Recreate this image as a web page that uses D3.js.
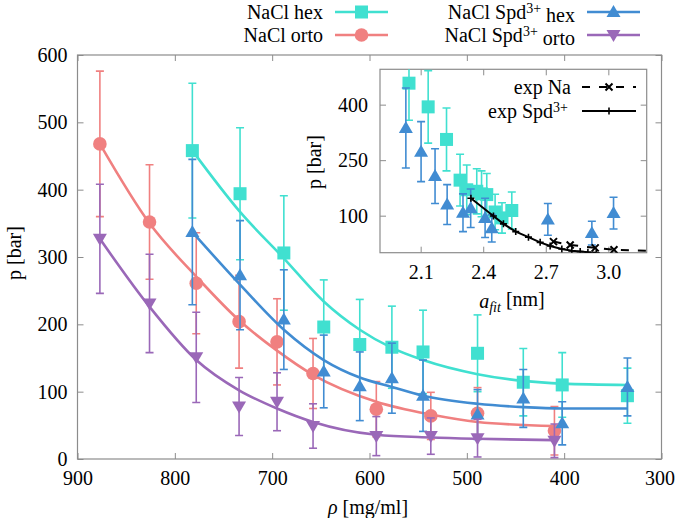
<!DOCTYPE html>
<html><head><meta charset="utf-8">
<script src="https://cdn.jsdelivr.net/npm/d3@7"></script>
<style>
body{margin:0;background:#fff}
svg{display:block}
svg text{font-family:"Liberation Serif","DejaVu Serif","Times New Roman",serif !important;font-size:20px;fill:#000}
</style>
</head><body>
<svg id="c" width="675" height="518"></svg>
<script>
// ---------- main plot data ----------
const rhoOrto = [877, 826, 778, 734, 695, 658, 593, 537, 489, 410];
const pNaClOrto = [468, 352, 261, 204, 174, 127, 74, 64, 68, 42];
const errNaClOrto = [108, 85, 75, 69, 64, 52, 41, 35, 38, 36];
const fitNaClOrto = [468, 350, 271, 206, 161, 125, 85, 66, 55, 49];

const pSpdOrto = [327, 231, 151, 78, 85, 49, 34, 34, 31, 27];
const errSpdOrto = [81, 73, 67, 43, 43, 33, 29, 27, 28, 25];
const fitSpdOrto = [327, 226, 147, 102, 75, 55, 36, 32, 30, 28];

const rhoHex = [782, 733, 688, 647, 610, 577, 545, 489, 442, 402, 335];
const pNaClHex = [458, 394, 306, 196, 170, 166, 159, 157, 114, 110, 94];
const errNaClHex = [100, 98, 85, 70, 67, 61, 62, 57, 50, 48, 41];
const fitNaClHex = [458, 367, 298, 234, 192, 165, 147, 126, 116, 112, 110];

const pSpdHex = [337, 273, 207, 130, 108, 120, 94, 66, 90, 53, 107];
const errSpdHex = [108, 81, 74, 54, 51, 52, 53, 37, 43, 32, 43];
const fitSpdHex = [337, 259, 192, 147, 121, 107, 94, 82, 77, 75, 75];

const xTicks = [900, 800, 700, 600, 500, 400, 300];
const yTicks = [0, 100, 200, 300, 400, 500, 600];

// ---------- inset data ----------
const afitNaClHex = [2.044, 2.136, 2.224, 2.289, 2.321, 2.369, 2.392, 2.417, 2.537, 2.457, 2.49];
const afitSpdHex = [2.029, 2.102, 2.169, 2.227, 2.303, 2.340, 2.409, 2.441, 2.710, 2.921, 3.025];
const aExpNa = [2.737, 2.817, 2.937, 3.027, 3.30];
const pExpNa = [30, 21, 13, 8, 3];
const aExpSpd = [2.341, 2.449, 2.497, 2.556, 2.617, 2.673, 2.721, 2.777, 2.825, 2.865, 2.902, 2.942];
const pExpSpd = [147, 99, 78, 57, 42, 28, 18, 10, 5, 3, 1, 0];
const xiTicks = [2.1, 2.4, 2.7, 3.0];
const yiTicks = [100, 250, 400];

// ---------- colours ----------
const C_HEX = "#40e0d0", C_ORTO = "#f08080", C_SHEX = "#418cd2", C_SORTO = "#9a68b8";
const AX = "#8c8c8c";
const FONT = '"Liberation Serif","DejaVu Serif","Times New Roman",serif';

const svg = d3.select("#c");

function marker(g, type, cx, cy, color) {
  if (type === "square") {
    g.append("rect").attr("x", cx - 6.5).attr("y", cy - 6.5).attr("width", 13).attr("height", 13).attr("fill", color);
  } else if (type === "circle") {
    g.append("circle").attr("cx", cx).attr("cy", cy).attr("r", 6.8).attr("fill", color);
  } else if (type === "up") {
    g.append("path").attr("d", `M${cx},${cy-7}L${cx+7},${cy+5}L${cx-7},${cy+5}Z`).attr("fill", color);
  } else if (type === "down") {
    g.append("path").attr("d", `M${cx},${cy+7}L${cx+7},${cy-5}L${cx-7},${cy-5}Z`).attr("fill", color);
  }
}

function errorBars(g, xs, ys, es, xS, yS, color) {
  xs.forEach((xv, i) => {
    const px = xS(xv), y1 = yS(ys[i] - es[i]), y2 = yS(ys[i] + es[i]);
    g.append("line").attr("x1", px).attr("x2", px).attr("y1", y1).attr("y2", y2)
      .attr("stroke", color).attr("stroke-width", 1.6);
    [y1, y2].forEach(yy => g.append("line").attr("x1", px - 4).attr("x2", px + 4).attr("y1", yy).attr("y2", yy)
      .attr("stroke", color).attr("stroke-width", 1.6));
  });
}

// ---------- main plot ----------
const M = {l: 77.5, r: 661.5, t: 55, b: 459};
const x = d3.scaleLinear().domain([900, 300]).range([M.l, M.r]);
const y = d3.scaleLinear().domain([0, 600]).range([M.b, M.t]);

const defs = svg.append("defs");
defs.append("clipPath").attr("id", "mclip")
  .append("rect").attr("x", M.l).attr("y", M.t).attr("width", M.r - M.l).attr("height", M.b - M.t);
defs.append("clipPath").attr("id", "iclip")
  .append("rect").attr("x", 380).attr("y", 69.3).attr("width", 266.7).attr("height", 183.4);

function styleAxis(g) {
  g.attr("font-family", FONT).attr("font-size", 20);
  g.select(".domain").remove();
  g.selectAll(".tick line").attr("stroke", AX).attr("stroke-width", 1);
  g.selectAll("text").attr("fill", "#000");
}

const xAxisG = svg.append("g").attr("transform", `translate(0,${M.b})`)
  .call(d3.axisBottom(x).tickValues(xTicks).tickSize(-6).tickPadding(12).tickFormat(d3.format("d"))).call(styleAxis);
xAxisG.selectAll(".tick text").filter(d => d === 300).attr("dx", -2);
svg.append("g").attr("transform", `translate(0,${M.t})`)
  .call(d3.axisTop(x).tickValues(xTicks).tickSize(-6).tickFormat("")).call(styleAxis);
svg.append("g").attr("transform", `translate(${M.l},0)`)
  .call(d3.axisLeft(y).tickValues(yTicks).tickSize(-6).tickPadding(10).tickFormat(d3.format("d"))).call(styleAxis);
svg.append("g").attr("transform", `translate(${M.r},0)`)
  .call(d3.axisRight(y).tickValues(yTicks).tickSize(-6).tickFormat("")).call(styleAxis);

svg.append("rect").attr("x", M.l).attr("y", M.t).attr("width", M.r - M.l).attr("height", M.b - M.t)
  .attr("fill", "none").attr("stroke", AX).attr("stroke-width", 1.2);

const plot = svg.append("g").attr("clip-path", "url(#mclip)");
const line = d3.line().curve(d3.curveMonotoneX);

const series = [
  {rho: rhoHex, p: pNaClHex, e: errNaClHex, fit: fitNaClHex, c: C_HEX, m: "square"},
  {rho: rhoOrto, p: pNaClOrto, e: errNaClOrto, fit: fitNaClOrto, c: C_ORTO, m: "circle"},
  {rho: rhoHex, p: pSpdHex, e: errSpdHex, fit: fitSpdHex, c: C_SHEX, m: "up"},
  {rho: rhoOrto, p: pSpdOrto, e: errSpdOrto, fit: fitSpdOrto, c: C_SORTO, m: "down"}
];
series.forEach(s => {
  const g = plot.append("g");
  errorBars(g, s.rho, s.p, s.e, x, y, s.c);
  g.append("path").attr("d", line(s.rho.map((r, i) => [x(r), y(s.fit[i])])))
    .attr("fill", "none").attr("stroke", s.c).attr("stroke-width", 2.6);
  s.rho.forEach((r, i) => marker(g, s.m, x(r), y(s.p[i]), s.c));
});

// axis labels
svg.append("text").attr("transform", "translate(14,253) rotate(-90)").attr("text-anchor", "middle")
  .attr("dy", "0.35em").text("p [bar]");
const xl = svg.append("text").attr("x", 368).attr("y", 514).attr("text-anchor", "middle");
xl.append("tspan").attr("font-style", "italic").text("ρ");
xl.append("tspan").text(" [mg/ml]");

// legend
function legendEntry(tx, ty, parts, color, m) {
  const t = svg.append("text").attr("x", tx).attr("y", ty).attr("text-anchor", "end").attr("dy", "0.35em");
  parts.forEach(pt => {
    const ts = t.append("tspan").text(pt.t);
    if (pt.sup) ts.attr("dy", "-0.45em").style("font-size", "14px");
    if (pt.after) ts.attr("dy", "0.45em");
  });
  const g = svg.append("g");
  g.append("line").attr("x1", tx + 12).attr("x2", tx + 65).attr("y1", ty).attr("y2", ty)
    .attr("stroke", color).attr("stroke-width", 2.6);
  marker(g, m, tx + 38.5, ty, color);
}
legendEntry(323, 12, [{t: "NaCl hex"}], C_HEX, "square");
legendEntry(323, 35, [{t: "NaCl orto"}], C_ORTO, "circle");
legendEntry(575, 12, [{t: "NaCl Spd"}, {t: "3+", sup: true}, {t: " hex", after: true}], C_SHEX, "up");
legendEntry(575, 35, [{t: "NaCl Spd"}, {t: "3+", sup: true}, {t: " orto", after: true}], C_SORTO, "down");

// ---------- inset ----------
const I = {l: 380, r: 646.7, t: 69.3, b: 252.7};
const xi = d3.scaleLinear().domain([1.905, 3.184]).range([I.l, I.r]);
const yi = d3.scaleLinear().domain([0, 495.5]).range([I.b, I.t]);

svg.append("rect").attr("x", I.l).attr("y", I.t).attr("width", I.r - I.l).attr("height", I.b - I.t)
  .attr("fill", "#fff");
svg.append("g").attr("transform", `translate(0,${I.b})`)
  .call(d3.axisBottom(xi).tickValues(xiTicks).tickSize(-6).tickPadding(12).tickFormat(d3.format(".1f"))).call(styleAxis);
svg.append("g").attr("transform", `translate(0,${I.t})`)
  .call(d3.axisTop(xi).tickValues(xiTicks).tickSize(-6).tickFormat("")).call(styleAxis);
svg.append("g").attr("transform", `translate(${I.l},0)`)
  .call(d3.axisLeft(yi).tickValues(yiTicks).tickSize(-6).tickPadding(12).tickFormat(d3.format("d"))).call(styleAxis);
svg.append("g").attr("transform", `translate(${I.r},0)`)
  .call(d3.axisRight(yi).tickValues(yiTicks).tickSize(-6).tickFormat("")).call(styleAxis);
svg.append("rect").attr("x", I.l).attr("y", I.t).attr("width", I.r - I.l).attr("height", I.b - I.t)
  .attr("fill", "none").attr("stroke", AX).attr("stroke-width", 1.2);

const ins = svg.append("g").attr("clip-path", "url(#iclip)");
[{a: afitNaClHex, p: pNaClHex, e: errNaClHex, c: C_HEX, m: "square"},
 {a: afitSpdHex, p: pSpdHex, e: errSpdHex, c: C_SHEX, m: "up"}].forEach(s => {
  const g = ins.append("g");
  errorBars(g, s.a, s.p, s.e, xi, yi, s.c);
  s.a.forEach((a, i) => marker(g, s.m, xi(a), yi(s.p[i]), s.c));
});

function cross(g, cx, cy) {
  g.append("path").attr("d", `M${cx-3.5},${cy-3.5}L${cx+3.5},${cy+3.5}M${cx-3.5},${cy+3.5}L${cx+3.5},${cy-3.5}`)
    .attr("stroke", "#000").attr("stroke-width", 2);
}
function plus(g, cx, cy) {
  g.append("path").attr("d", `M${cx-3.5},${cy}L${cx+3.5},${cy}M${cx},${cy-3.5}L${cx},${cy+3.5}`)
    .attr("stroke", "#000").attr("stroke-width", 1.6);
}
const lineLin = d3.line();
const gNa = ins.append("g");
gNa.append("path").attr("d", lineLin(aExpNa.map((a, i) => [xi(a), yi(pExpNa[i])])))
  .attr("fill", "none").attr("stroke", "#000").attr("stroke-width", 2).attr("stroke-dasharray", "8,9");
aExpNa.forEach((a, i) => cross(gNa, xi(a), yi(pExpNa[i])));
const gSp = ins.append("g");
gSp.append("path").attr("d", lineLin(aExpSpd.map((a, i) => [xi(a), yi(pExpSpd[i])])))
  .attr("fill", "none").attr("stroke", "#000").attr("stroke-width", 2);
aExpSpd.forEach((a, i) => plus(gSp, xi(a), yi(pExpSpd[i])));

// inset legend
svg.append("text").attr("x", 571).attr("y", 87).attr("text-anchor", "end").attr("dy", "0.35em").text("exp Na");
const gl1 = svg.append("g");
gl1.append("line").attr("x1", 582).attr("x2", 636).attr("y1", 87).attr("y2", 87)
  .attr("stroke", "#000").attr("stroke-width", 2).attr("stroke-dasharray", "8,9");
cross(gl1, 609, 87);
const t2 = svg.append("text").attr("x", 568).attr("y", 111).attr("text-anchor", "end").attr("dy", "0.35em");
t2.append("tspan").text("exp Spd");
t2.append("tspan").attr("dy", "-0.45em").style("font-size", "14px").text("3+");
const gl2 = svg.append("g");
gl2.append("line").attr("x1", 582).attr("x2", 636).attr("y1", 111).attr("y2", 111)
  .attr("stroke", "#000").attr("stroke-width", 2);
plus(gl2, 609, 111);

// inset axis labels
svg.append("text").attr("transform", "translate(314,162) rotate(-90)").attr("text-anchor", "middle")
  .attr("dy", "0.35em").text("p [bar]");
const xil = svg.append("text").attr("x", 512).attr("y", 301).attr("text-anchor", "middle").attr("dy", "0.35em");
xil.append("tspan").attr("font-style", "italic").text("a");
xil.append("tspan").attr("font-style", "italic").attr("dy", "0.3em").style("font-size", "14px").text("fit");
xil.append("tspan").attr("dy", "-0.3em").text(" [nm]");
</script>
</body></html>
